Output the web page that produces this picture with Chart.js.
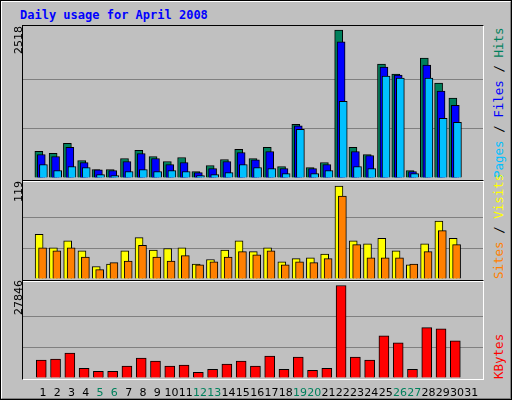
<!DOCTYPE html>
<html>
<head>
<meta charset="utf-8">
<script src="https://cdn.jsdelivr.net/npm/chart.js@4/dist/chart.umd.min.js"></script>
<style>
  html, body { margin: 0; padding: 0; background: #fff; }
  #frame { position: absolute; left: 0; top: 0; width: 508px; height: 396px; background: #c0c0c0;
           border-top: 2px solid #fff; border-left: 2px solid #fff; border-right: 2px solid #808080; border-bottom: 2px solid #808080;
           outline: 1px solid #000; outline-offset: -1px; font-family: "DejaVu Sans Mono", monospace; }
  #title { position: absolute; left: 18px; top: 6px; color: #0000ff; font-weight: bold; font-size: 12px; }
  .panel { position: absolute; left: 20px; width: 462px; border-top: 1px solid #000; border-left: 1px solid #000;
           border-right: 1px solid #fff; border-bottom: 2px solid #fff; box-sizing: border-box; }
  canvas { position: absolute; left: 0; top: 0; }
  .vl { position: absolute; transform: rotate(-90deg); transform-origin: left top; white-space: nowrap; font-size: 12.5px; }
  .num { font-family: "DejaVu Sans", sans-serif; color: #000; font-size: 11px; }
</style>
</head>
<body>
<div id="frame">
  <div id="title">Daily usage for April 2008</div>
  <div class="panel" style="top:23px;height:157px"><div style="position:absolute;left:0;top:1px;width:460px;height:151px"><canvas id="c1"></canvas></div></div>
  <div class="panel" style="top:178px;height:102px"><div style="position:absolute;left:0;top:1px;width:460px;height:97px"><canvas id="c2"></canvas></div></div>
  <div class="panel" style="top:278px;height:100px;border-bottom:1px solid #fff"><div style="position:absolute;left:0;top:1px;width:460px;height:114px"><canvas id="c3"></canvas></div></div>
  <div class="vl num" style="left:10px;top:52px">2518</div>
  <div class="vl num" style="left:10px;top:200px">119</div>
  <div class="vl num" style="left:10px;top:313px">27846</div>
  <div class="vl" style="left:489px;top:176px"><span style="color:#00c0ff">Pages</span>&nbsp;/&nbsp;<span style="color:#0000ff">Files</span>&nbsp;/&nbsp;<span style="color:#00805c">Hits</span></div>
  <div class="vl" style="left:489px;top:277px"><span style="color:#ff8000">Sites</span>&nbsp;/&nbsp;<span style="color:#ffff00">Visits</span></div>
  <div class="vl" style="left:489px;top:377px"><span style="color:#ff0000">KBytes</span></div>
</div>
<script>
// ============ Data ============
const days = Array.from({ length: 31 }, (_, i) => String(i + 1));
const weekendDays = [5, 6, 12, 13, 19, 20, 26, 27];
const hits   = [452, 418, 589, 298, 144, 144, 332, 469, 366, 281, 349, 110, 212, 315, 486, 332, 520, 195, 913, 178, 263, 2518, 520, 400, 1939, 1768, 127, 2042, 1614, 1358];
const files  = [400, 366, 520, 263, 137, 127, 280, 417, 332, 229, 263, 92, 161, 280, 434, 308, 451, 161, 889, 161, 229, 2315, 451, 383, 1888, 1751, 110, 1922, 1477, 1238];
const pages  = [229, 127, 195, 178, 58, 41, 110, 144, 110, 127, 110, 41, 58, 92, 229, 178, 161, 75, 828, 75, 127, 1306, 195, 161, 1734, 1700, 75, 1700, 1016, 947];
const visits = [57, 40, 49, 36, 16, 19, 36, 53, 37, 39, 40, 19, 25, 37, 49, 35, 40, 22, 26, 27, 32, 119, 49, 45, 52, 36, 18, 45, 74, 52];
const sites  = [40, 36, 40, 28, 12, 21, 23, 43, 28, 23, 30, 18, 22, 28, 35, 31, 36, 18, 22, 21, 26, 106, 44, 27, 27, 27, 19, 35, 62, 44];
const kbytes = [5386, 5690, 7520, 2947, 2032, 2032, 3557, 5995, 5081, 3557, 3862, 1728, 2642, 4166, 5081, 3557, 6605, 2642, 6300, 2337, 2947, 27846, 6300, 5386, 12702, 10568, 2642, 15141, 14836, 11178];

// ============ Helpers ============
const pts = (arr, off) => arr.map((v, i) => ({ x: i + 1 + off, y: v }));
const bar = (data, color, off, order, w) => ({
    data: pts(data, off), backgroundColor: color, borderColor: '#000', borderWidth: 1,
    borderSkipped: 'bottom', barThickness: w, order, grouped: false
});

function panel(id, datasets, top, max, showX) {
    new Chart(document.getElementById(id), {
        type: 'bar',
        data: { datasets },
        options: {
            animation: false, responsive: true, maintainAspectRatio: false,
            layout: { padding: 0 },
            plugins: { legend: { display: false }, tooltip: { enabled: false } },
            scales: {
                x: {
                    type: 'linear', min: 0.12, max: 31.3, display: showX,
                    grid: { display: false }, border: { display: false },
                    afterBuildTicks(axis) { axis.ticks = days.map(d => ({ value: +d })); },
                    afterFit(axis) { axis.height = showX ? 18 : 0; },
                    ticks: {
                        padding: 1, autoSkip: false, maxRotation: 0,
                        font: { family: 'DejaVu Sans', size: 11 },
                        color: c => weekendDays.includes(c.tick.value) ? '#00805c' : '#000',
                        callback: v => days[v - 1]
                    }
                },
                y: {
                    min: 0, max,
                    afterBuildTicks(axis) { axis.ticks = [{ value: 0 }, { value: top / 3 }, { value: top * 2 / 3 }]; },
                    afterFit(axis) { axis.width = 0; },
                    ticks: { display: false },
                    border: { display: false },
                    grid: { drawTicks: false, color: c => c.tick.value === 0 ? 'rgba(0,0,0,0)' : '#808080', lineWidth: 1 }
                }
            }
        }
    });
}

panel('c1', [
    bar(hits, '#00805c', -0.29, 3, 8),
    bar(files, '#0000ff', -0.12, 2, 8),
    bar(pages, '#00c0ff', 0.03, 1, 8)
], 2518, 2518 * 151 / 148, false);

panel('c2', [
    bar(visits, '#ffff00', -0.27, 2, 8),
    bar(sites, '#ff8000', -0.03, 1, 8)
], 119, 119 * 97 / 93, false);

panel('c3', [
    bar(kbytes, '#ff0000', -0.12, 1, 10)
], 27846, 27846 * 96 / 92.5, true);
</script>
</body>
</html>
